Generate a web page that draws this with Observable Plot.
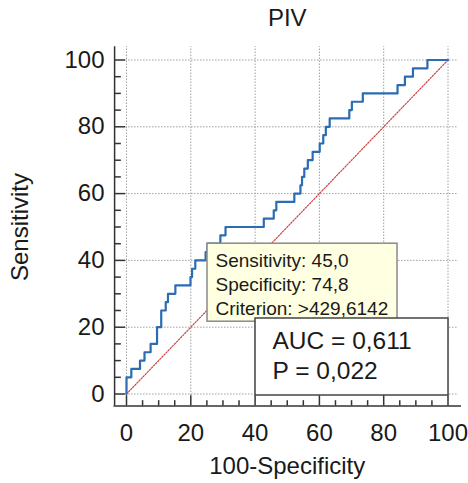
<!DOCTYPE html>
<html><head><meta charset="utf-8">
<script src="https://cdn.jsdelivr.net/npm/d3@7"></script>
<script src="https://cdn.jsdelivr.net/npm/@observablehq/plot@0.6"></script>
<style>body{margin:0;background:#fff}</style>
</head><body><div id="chart"></div>
<script>
// ROC curve vertices (100-Specificity, Sensitivity)
const fpr = [0,0,1.5,4.2,5.6,7.5,9.5,10.8,12.2,12.9,15.2,19.9,20.4,21.4,24.6,25.2,29.2,30.8,42.7,45.8,46.6,52.2,54.1,54.6,55.3,56.4,57.9,60.1,61.2,62,63.2,69.3,70.1,73.5,84.3,86.6,89.1,93.6,100];
const tpr = [0,5,7.5,10,12.5,15,20,25,27.5,30,32.5,35,37.5,40,42.5,45,47.5,50,52.5,55,57.5,60,62.5,65,67.5,70,72.5,75,77.5,80,82.5,85,87.5,90,92.5,95,97.5,100,100];
const diagX = [0,100];
const diagY = [0,100];
const majorTicks = [0,20,40,60,80,100];
const minorTicks = [5,10,15,25,30,35,45,50,55,65,70,75,85,90,95];
const title = "PIV";
const xLabel = "100-Specificity";
const yLabel = "Sensitivity";
const critPoint = {x: 25.2, y: 45};
const tipLabels = ["Sensitivity: 45,0", "Specificity: 74,8", "Criterion: >429,6142"];
const statLines = ["AUC = 0,611", "P = 0,022"];
const statCorner = {x: 100, y: 0};
// axis frame extents (data units)
const axisXpos = -3.7, axisYpos = -3.6, axisXmax = 104.2, axisYmax = 104;

const roc = fpr.map((x, i) => ({x, y: tpr[i]}));
const diag = diagX.map((x, i) => ({x, y: diagY[i]}));
const font = "Liberation Sans, Arial, sans-serif";
const gridStyle = {stroke: "#a0a0a0", strokeWidth: 1, strokeDasharray: "1.5,1.5"};
const axisStyle = {stroke: "#333", strokeWidth: 1.5};

const chart = Plot.plot({
  width: 468,
  height: 483,
  marginLeft: 126,
  marginRight: 20.5,
  marginTop: 59.5,
  marginBottom: 89.5,
  style: {fontFamily: font, background: "white", color: "#1a1a1a"},
  x: {domain: [0, 100]},
  y: {domain: [0, 100]},
  marks: [
    Plot.ruleY(majorTicks, {y: d => d, x1: -0.3, x2: 103.3, ...gridStyle}),
    Plot.ruleX(majorTicks, {x: d => d, y1: -0.45, y2: axisYmax, ...gridStyle}),
    Plot.ruleX([axisXpos], {x: d => d, y1: axisYpos, y2: axisYmax, ...axisStyle}),
    Plot.ruleY([axisYpos], {y: d => d, x1: -3.9, x2: axisXmax, ...axisStyle}),
    Plot.ruleY(majorTicks, {y: d => d, x1: axisXpos, x2: -0.3, ...axisStyle}),
    Plot.ruleY(minorTicks, {y: d => d, x1: axisXpos, x2: -1.6, ...axisStyle}),
    Plot.ruleX(majorTicks, {x: d => d, y1: axisYpos, y2: -0.5, ...axisStyle}),
    Plot.ruleX(minorTicks, {x: d => d, y1: axisYpos, y2: -2.0, ...axisStyle}),
    Plot.axisY({ticks: majorTicks, anchor: "left", tickSize: 0, tickPadding: 22, fontSize: 24, tickFormat: d => d, label: null, fill: "#1a1a1a"}),
    Plot.axisX({ticks: majorTicks, anchor: "bottom", tickSize: 0, tickPadding: 30, fontSize: 24, tickFormat: d => d, label: null, fill: "#1a1a1a"}),
    Plot.line(diag, {x: "x", y: "y", stroke: "#cc4444", strokeWidth: 1.2, strokeDasharray: "1.5,1.5"}),
    Plot.line(roc, {x: "x", y: "y", curve: "step-after", stroke: "#2b6cb3", strokeWidth: 2.2}),
    Plot.rect([critPoint], {x1: "x", x2: "x", y1: "y", y2: "y", insetRight: -190, insetBottom: -78, fill: "#ffffe1", stroke: "#8a8a8a", strokeWidth: 1.5}),
    Plot.text([tipLabels.join("\n")], {x: critPoint.x, y: critPoint.y, text: d => d, textAnchor: "start", lineAnchor: "top", dx: 8, dy: 6.6, fontSize: 19, lineHeight: 1.247, fill: "#1a1a1a"}),
    Plot.rect([statCorner], {x1: "x", x2: "x", y1: "y", y2: "y", insetLeft: -192.5, insetRight: -0.5, insetTop: -75.5, insetBottom: -1.5, fill: "white", stroke: "#444", strokeWidth: 1.5}),
    Plot.text([statLines.join("\n")], {x: statCorner.x, y: statCorner.y, text: d => d, textAnchor: "start", lineAnchor: "top", dx: -175.5, dy: -66.6, fontSize: 24.5, lineHeight: 1.224, fill: "#1a1a1a"}),
    Plot.text([title], {text: d => d, frameAnchor: "top", textAnchor: "middle", lineAnchor: "middle", dy: -41.5, fontSize: 24, fill: "#1a1a1a"}),
    Plot.text([yLabel], {text: d => d, frameAnchor: "left", textAnchor: "middle", lineAnchor: "middle", rotate: -90, dx: -106, fontSize: 24, fill: "#1a1a1a"}),
    Plot.text([xLabel], {text: d => d, frameAnchor: "bottom", textAnchor: "middle", lineAnchor: "middle", dy: 72.5, fontSize: 24, fill: "#1a1a1a"})
  ]
});
document.getElementById("chart").appendChild(chart);
</script>
</body></html>
